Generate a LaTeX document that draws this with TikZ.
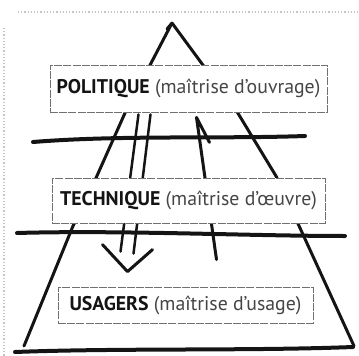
\documentclass[tikz,border=0pt]{standalone}
\usepackage{fontspec}
\setmainfont{PT Sans}
\usepackage{xcolor}
\usepackage{tikz}
\usetikzlibrary{calc,backgrounds}
\definecolor{inkBlack}{HTML}{141414}
\definecolor{boxGrey}{HTML}{707070}
\definecolor{noteGrey}{HTML}{454545}
\definecolor{frameGrey}{HTML}{C4C4C4}

\begin{document}
\begin{tikzpicture}[x=1pt, y=-1pt, node distance=112pt,
  level/.style={fill=white, draw=boxGrey, line width=0.8pt, dash pattern=on 8pt off 1.2pt, inner sep=0pt, font=\fontsize{19.8}{21}\selectfont, text=inkBlack},
  stroke/.style={draw=inkBlack, line width=3pt, line cap=round, line join=round}]

        \useasboundingbox (0,0) rectangle (359,356);

        % the three levels
        \node (pol) [level, minimum width=277pt, minimum height=47pt] at (188.5,88.5) {\textbf{POLITIQUE} \textcolor{noteGrey}{(maîtrise d’ouvrage)}};
        
        \node (tech) [level, below of=pol, minimum width=273pt, minimum height=45pt] {\textbf{TECHNIQUE} \textcolor{noteGrey}{(maîtrise d’œuvre)}};
        
        \node (usa) [level, below of=tech, node distance=104.5pt, xshift=-3pt, minimum width=255pt, minimum height=36pt] {\textbf{USAGERS} \textcolor{noteGrey}{(maîtrise d’usage)}};

        \begin{scope}[on background layer]
        % frame of the screenshot
        \draw[frameGrey, dotted, line width=1.2pt] (18,12) -- (359,12);
        \draw[frameGrey, dotted, line width=1.2pt] (4,28) -- (4,356);

        % pyramid
        \draw[stroke] (167,29) -- (172,23) -- (125,113) -- (96,178) -- (73,226) -- (24,346);
        \draw[stroke] (172,23) -- (236,110) -- (276,176) -- (300,228) -- (354,346);

        % the arrows between levels
        \draw[stroke, line width=2.5pt] ($(pol.south)+(-50,2)$) -- ($(usa.north)+(-65,-35)$);
        \draw[stroke, line width=2.5pt] ($(pol.south)+(-38,2)$) -- ($(usa.north)+(-52,-33)$);
        \draw[stroke] ($(usa.north)+(-83,-42)$) -- ($(usa.north)+(-58,-15)$) -- ($(usa.north)+(-33,-37)$);
        \draw[stroke] ($(usa.north)+(31,-27)$) -- ($(pol.south)+(8,5)$) -- ($(pol.south)+(21,30)$);

        % cross lines
        \draw[stroke, line width=4pt] (33,142) .. controls (120,135) and (220,139) .. (305,136);
        \draw[stroke, line width=4pt] (17,233) .. controls (120,230) and (250,236) .. (345,236);
        \draw[stroke, line width=4pt] (15,352) .. controls (120,348) and (250,351) .. (353,347);
        \end{scope}
    \end{tikzpicture}
\end{document}
